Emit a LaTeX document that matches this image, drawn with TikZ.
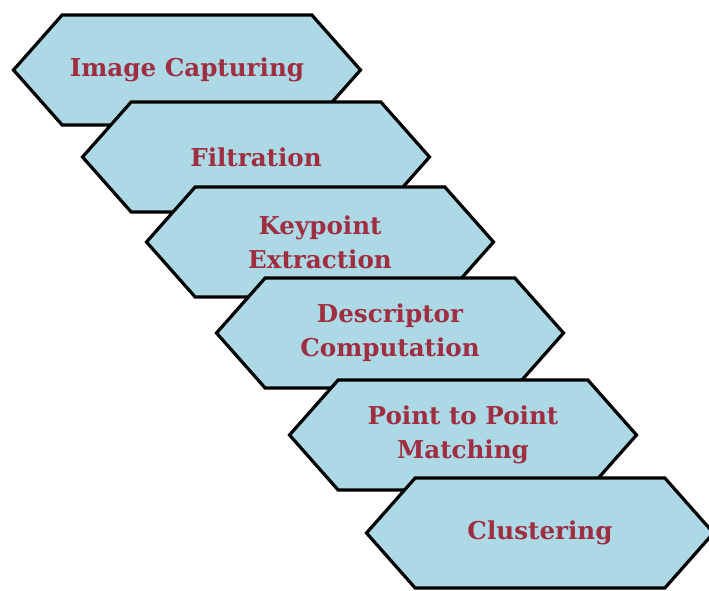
\documentclass[tikz,border=0pt]{standalone}
\usepackage{fontspec}
\setmainfont{DejaVu Serif}
\usetikzlibrary{shapes.symbols}
\definecolor{hexfill}{RGB}{173,216,230}
\definecolor{hextext}{RGB}{158,46,64}
\tikzset{
  stage/.style={draw=black,line width=3.2pt,fill=hexfill,signal,signal to=west and east,
    signal pointer angle=97,minimum width=347pt,minimum height=110pt,inner sep=0pt,
    align=center,text=hextext,font=\bfseries\fontsize{24.6}{34}\selectfont}
}
\begin{document}
\begin{tikzpicture}[x=1pt,y=-1pt]
        \useasboundingbox (0,0) rectangle (709,591);
        \node[stage](cap)at(187,70){Image Capturing};
        \node[stage](fil)at(256,157){Filtration};
        \node[stage](key)at(320,242){Keypoint\\Extraction};
        \node[stage](des)at(390,333){Descriptor\\Computation};
        \node[stage](ptp)at(463,435){Point to Point\\Matching};
        \node[stage](clu)at(540,533){Clustering};
        \end{tikzpicture}
\end{document}
